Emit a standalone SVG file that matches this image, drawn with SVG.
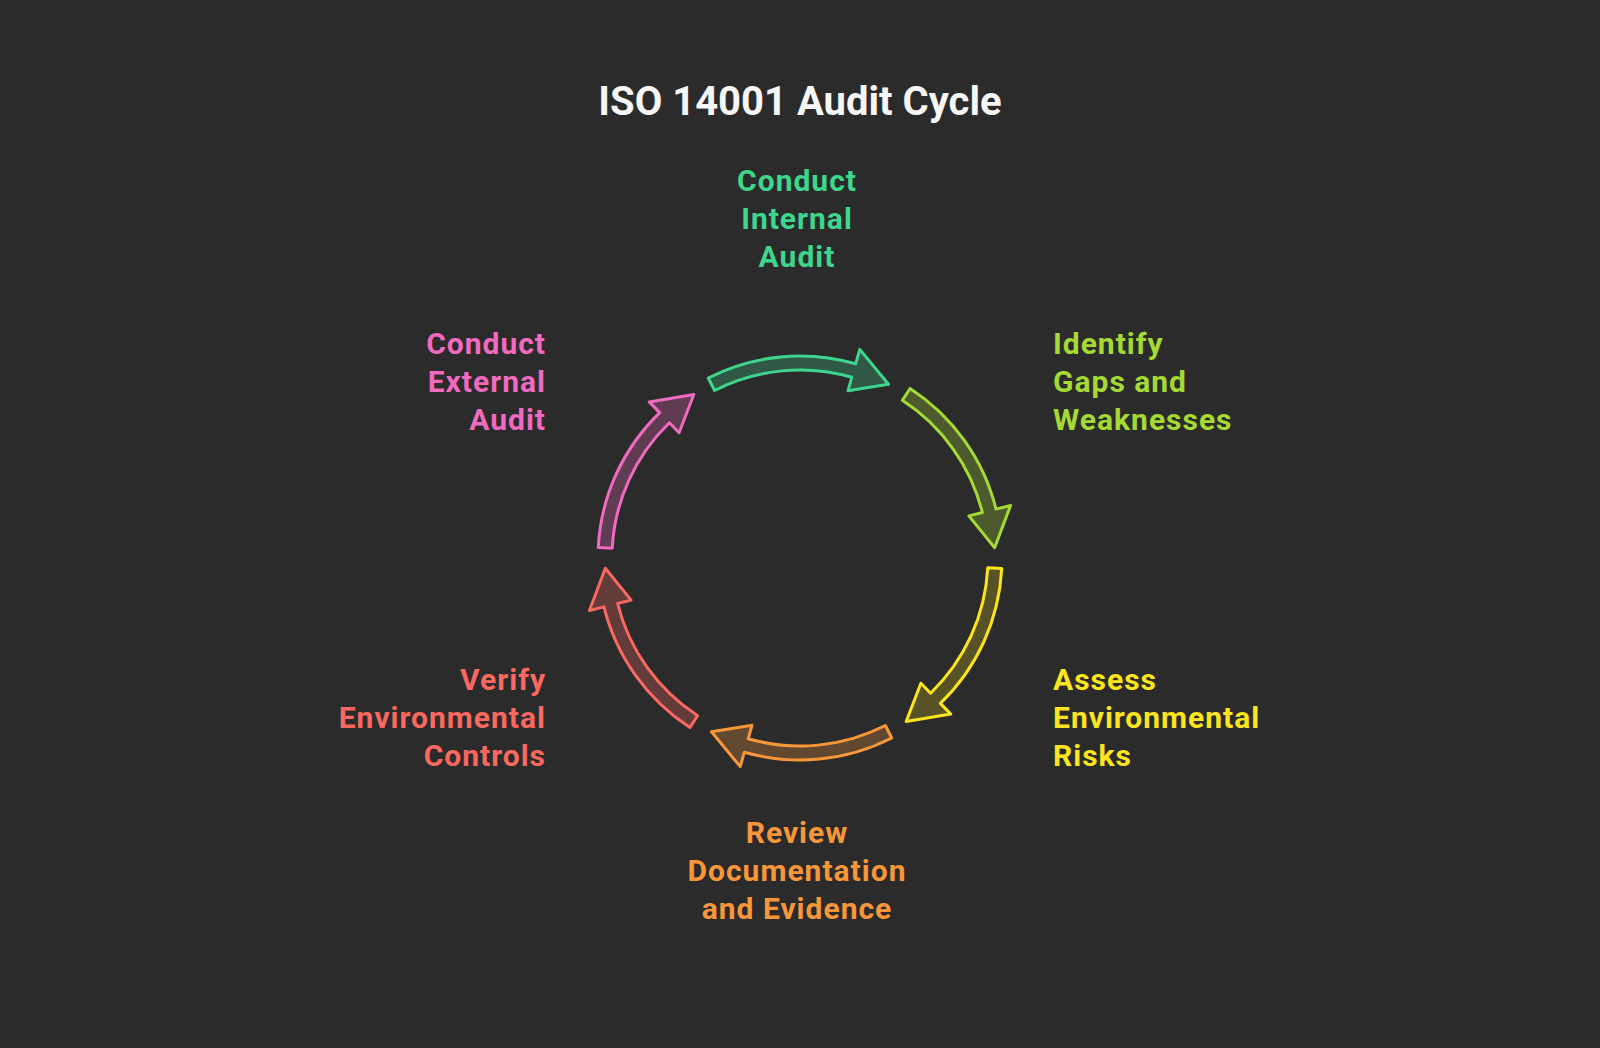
<svg xmlns="http://www.w3.org/2000/svg" width="1600" height="1048" viewBox="0 0 1600 1048">
<defs>
<style>
.bg{fill:#2b2b2b}
.title{font-family:Roboto,"Liberation Sans",sans-serif;font-weight:700;font-size:40px;fill:#f6f6f6}
.lbl{font-family:Roboto,"Liberation Sans",sans-serif;font-weight:700;font-size:30px;letter-spacing:1px}
.arr{stroke-width:3;stroke-linejoin:round}
.green{fill:#3dd68c}
.lime{fill:#a5d933}
.yellow{fill:#fce51c}
.orange{fill:#f8973a}
.red{fill:#fa6860}
.pink{fill:#f06ac0}
</style>
<path id="arrowShape" d="M -91.7 -180 A 202 202 0 0 1 55.7 -194.2 L 59.8 -208.6 L 88.5 -173.7 L 48 -167.3 L 51.8 -180.7 A 188 188 0 0 0 -85.4 -167.5 Z"/>
</defs>
<rect class="bg" x="0" y="0" width="1600" height="1048"/>
<text class="title" x="800" y="115" text-anchor="middle">ISO 14001 Audit Cycle</text>

<g id="connectors" transform="translate(800 558)">
<use href="#arrowShape" class="arr" fill="#3dd68c" fill-opacity="0.27" stroke="#3dd68c"/>
<use href="#arrowShape" class="arr" transform="rotate(60)" fill="#a5d933" fill-opacity="0.27" stroke="#a5d933"/>
<use href="#arrowShape" class="arr" transform="rotate(120)" fill="#fce51c" fill-opacity="0.22" stroke="#fce51c"/>
<use href="#arrowShape" class="arr" transform="rotate(180)" fill="#f8973a" fill-opacity="0.27" stroke="#f8973a"/>
<use href="#arrowShape" class="arr" transform="rotate(240)" fill="#fa6860" fill-opacity="0.27" stroke="#fa6860"/>
<use href="#arrowShape" class="arr" transform="rotate(300)" fill="#f06ac0" fill-opacity="0.27" stroke="#f06ac0"/>
</g>

<g id="node-internal-audit">
<text class="lbl green" text-anchor="middle"><tspan x="797" y="191">Conduct</tspan><tspan x="797" y="229">Internal</tspan><tspan x="797" y="267">Audit</tspan></text>
</g>
<g id="node-identify-gaps">
<text class="lbl lime" text-anchor="start"><tspan x="1053" y="354">Identify</tspan><tspan x="1053" y="392">Gaps and</tspan><tspan x="1053" y="430">Weaknesses</tspan></text>
</g>
<g id="node-assess-risks">
<text class="lbl yellow" text-anchor="start"><tspan x="1053" y="690">Assess</tspan><tspan x="1053" y="728">Environmental</tspan><tspan x="1053" y="766">Risks</tspan></text>
</g>
<g id="node-review-docs">
<text class="lbl orange" text-anchor="middle"><tspan x="797" y="843">Review</tspan><tspan x="797" y="881">Documentation</tspan><tspan x="797" y="919">and Evidence</tspan></text>
</g>
<g id="node-verify-controls">
<text class="lbl red" text-anchor="end"><tspan x="546" y="690">Verify</tspan><tspan x="546" y="728">Environmental</tspan><tspan x="546" y="766">Controls</tspan></text>
</g>
<g id="node-external-audit">
<text class="lbl pink" text-anchor="end"><tspan x="546" y="354">Conduct</tspan><tspan x="546" y="392">External</tspan><tspan x="546" y="430">Audit</tspan></text>
</g>
</svg>
